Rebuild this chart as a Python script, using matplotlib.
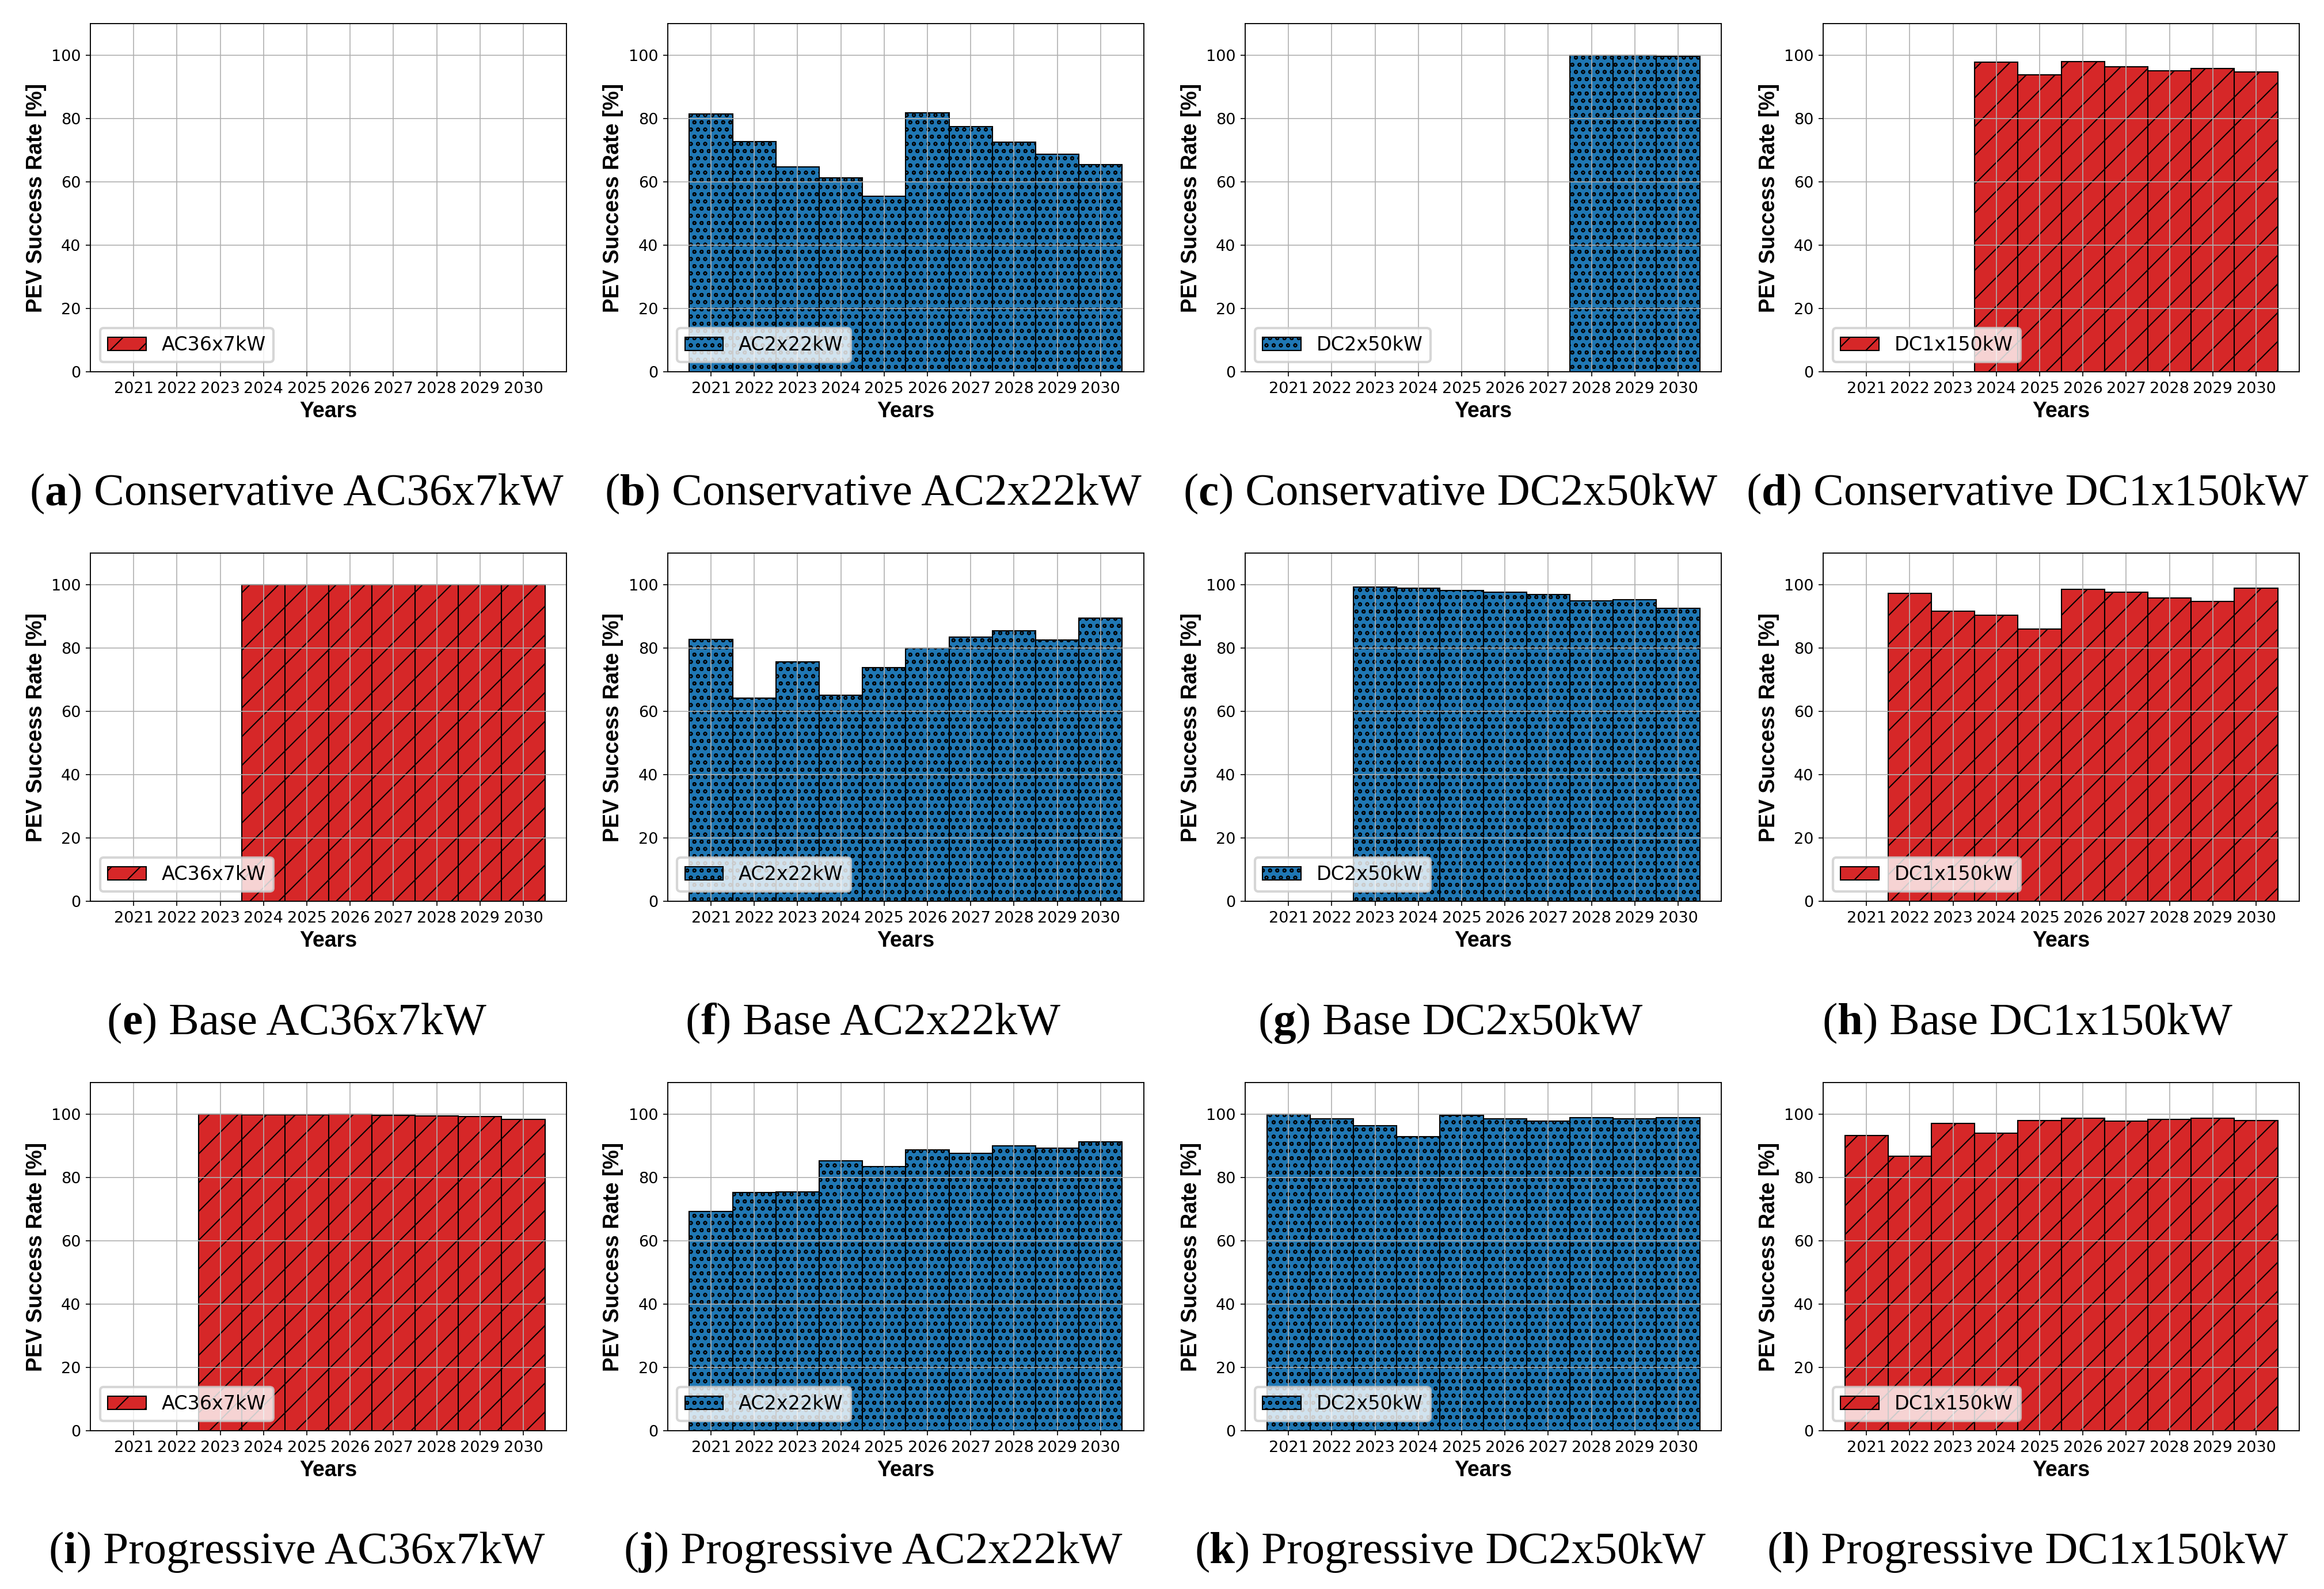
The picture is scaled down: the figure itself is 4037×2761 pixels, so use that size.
import matplotlib
matplotlib.use("Agg")
import matplotlib.pyplot as plt
from matplotlib.offsetbox import TextArea, HPacker, AnnotationBbox

years = [2021, 2022, 2023, 2024, 2025, 2026, 2027, 2028, 2029, 2030]
chargers = ["AC36x7kW", "AC2x22kW", "DC2x50kW", "DC1x150kW"]
scenarios = ["Conservative", "Base", "Progressive"]
letters = ["a", "b", "c", "d", "e", "f", "g", "h", "i", "j", "k", "l"]

# success rate [%] per year
conservative_ac36x7 = [0, 0, 0, 0, 0, 0, 0, 0, 0, 0]
conservative_ac2x22 = [81.4, 72.8, 64.8, 61.3, 55.4, 81.8, 77.4, 72.6, 68.8, 65.5]
conservative_dc2x50 = [0, 0, 0, 0, 0, 0, 0, 100.0, 100.0, 99.7]
conservative_dc1x150 = [0, 0, 0, 97.8, 93.9, 98.1, 96.4, 95.2, 95.9, 94.7]

base_ac36x7 = [0, 0, 0, 100.0, 100.0, 100.0, 100.0, 100.0, 100.0, 100.0]
base_ac2x22 = [82.7, 64.2, 75.6, 65.1, 73.9, 80.1, 83.4, 85.5, 82.5, 89.4]
base_dc2x50 = [0, 0, 99.2, 98.9, 98.2, 97.6, 96.9, 94.9, 95.2, 92.6]
base_dc1x150 = [0, 97.2, 91.6, 90.4, 86.0, 98.5, 97.6, 95.8, 94.8, 98.9]

progressive_ac36x7 = [0, 0, 100.0, 99.9, 99.9, 100.0, 99.7, 99.5, 99.2, 98.3]
progressive_ac2x22 = [69.2, 75.2, 75.4, 85.3, 83.4, 88.7, 87.7, 90.0, 89.2, 91.2]
progressive_dc2x50 = [100.0, 98.5, 96.4, 92.9, 99.6, 98.5, 97.8, 98.9, 98.5, 99.0]
progressive_dc1x150 = [93.3, 86.8, 97.1, 94.1, 98.1, 98.7, 97.8, 98.3, 98.7, 98.1]

data = [
    [conservative_ac36x7, conservative_ac2x22, conservative_dc2x50, conservative_dc1x150],
    [base_ac36x7, base_ac2x22, base_dc2x50, base_dc1x150],
    [progressive_ac36x7, progressive_ac2x22, progressive_dc2x50, progressive_dc1x150],
]

colors = ["tab:red", "tab:blue", "tab:blue", "tab:red"]
hatches = ["//", "oooo", "oooo", "//"]

plt.rcParams["font.size"] = 6.5
plt.rcParams["hatch.linewidth"] = 0.5
plt.rcParams["axes.linewidth"] = 0.45
plt.rcParams["xtick.major.size"] = 2
plt.rcParams["ytick.major.size"] = 2
plt.rcParams["xtick.major.width"] = 0.4
plt.rcParams["ytick.major.width"] = 0.4
plt.rcParams["xtick.major.pad"] = 2
plt.rcParams["ytick.major.pad"] = 2

fig = plt.figure(figsize=(4037 / 300, 2761 / 300), dpi=300)

lefts = [0.0389, 0.2873, 0.5358, 0.7845]
bottoms = [0.766, 0.4328, 0.0996]
cap_x = [0.1276, 0.3756, 0.624, 0.8724]
cap_y = [0.689, 0.356, 0.023]
w, h = 0.2049, 0.2191

label_font = dict(fontsize=9, fontweight="bold", family="Liberation Sans")

for r in range(3):
    for c in range(4):
        ax = fig.add_axes([lefts[c], bottoms[r], w, h])
        ax.bar(years, data[r][c], width=1.0, color=colors[c], edgecolor="black",
               linewidth=0.5, hatch=hatches[c], label=chargers[c])
        ax.set_ylim(0, 110)
        ax.set_yticks([0, 20, 40, 60, 80, 100])
        ax.set_xticks(years)
        ax.tick_params(labelsize=6.5)
        ax.grid(True, color="#b0b0b0", linewidth=0.4)
        ax.set_ylabel("PEV Success Rate [%]", labelpad=2, **label_font)
        ax.set_xlabel("Years", labelpad=2, **label_font)
        ax.legend(loc="lower left", fontsize=8)

        # caption with bold letter
        serif = dict(fontsize=19, family="Liberation Serif")
        parts = [TextArea("(", textprops=serif),
                 TextArea(letters[r * 4 + c], textprops=dict(serif, fontweight="bold")),
                 TextArea(") " + scenarios[r] + " " + chargers[c], textprops=serif)]
        box = HPacker(children=parts, pad=0, sep=0, align="baseline")
        ab = AnnotationBbox(box, (cap_x[c], cap_y[r]), xycoords="figure fraction",
                            frameon=False, box_alignment=(0.5, 0.5), pad=0)
        fig.add_artist(ab)

fig.savefig("out.png", dpi=300)
